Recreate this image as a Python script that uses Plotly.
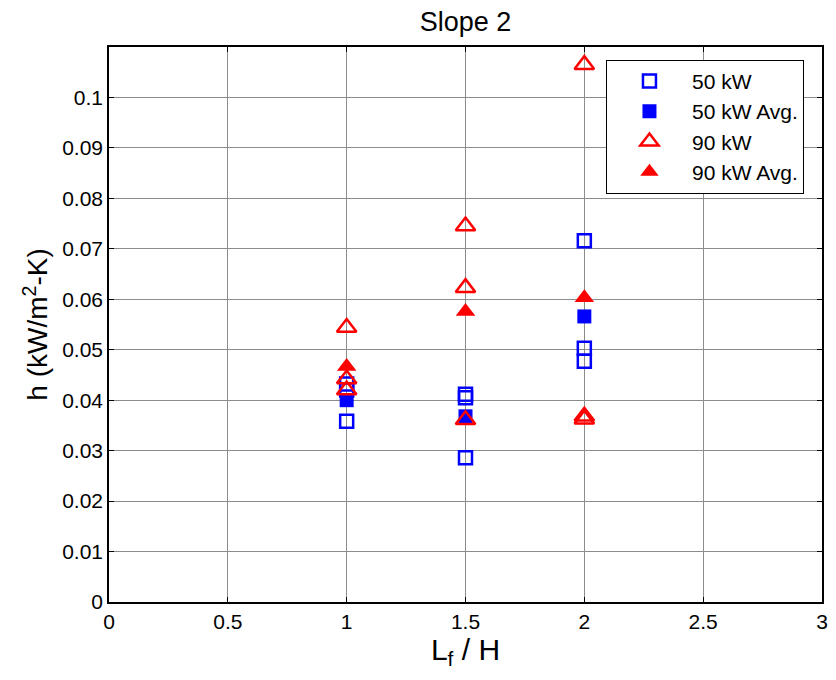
import plotly.graph_objects as go

# Data
x_50 = [1, 1, 1, 1.5, 1.5, 1.5, 2, 2, 2]
h_50 = [0.0358, 0.0420, 0.0432, 0.0286, 0.0405, 0.0412, 0.0477, 0.0503, 0.0716]
x_50_avg = [1, 1.5, 2]
h_50_avg = [0.0400, 0.0368, 0.0566]
x_90 = [1, 1, 1, 1.5, 1.5, 1.5, 2, 2, 2]
h_90 = [0.0420, 0.0442, 0.0544, 0.0361, 0.0623, 0.0745, 0.0362, 0.0368, 0.1065]
x_90_avg = [1, 1.5, 2]
h_90_avg = [0.0467, 0.0576, 0.0603]

x_ticks = [0, 0.5, 1, 1.5, 2, 2.5, 3]
x_tick_labels = ["0", "0.5", "1", "1.5", "2", "2.5", "3"]
y_ticks = [0, 0.01, 0.02, 0.03, 0.04, 0.05, 0.06, 0.07, 0.08, 0.09, 0.1]
y_tick_labels = ["0", "0.01", "0.02", "0.03", "0.04", "0.05", "0.06", "0.07", "0.08", "0.09", "0.1"]

FONT = "Liberation Sans, Arial, sans-serif"

fig = go.Figure()
fig.add_trace(go.Scatter(x=x_50, y=h_50, mode="markers", name="50 kW",
                         marker=dict(symbol="square-open", size=13, color="#0000FF",
                                     line=dict(width=2.5, color="#0000FF"))))
fig.add_trace(go.Scatter(x=x_50_avg, y=h_50_avg, mode="markers", name="50 kW Avg.",
                         marker=dict(symbol="square", size=14, color="#0000FF",
                                     line=dict(width=0))))
fig.add_trace(go.Scatter(x=x_90, y=h_90, mode="markers", name="90 kW",
                         marker=dict(symbol="triangle-up-open", size=17, color="#FF0000",
                                     line=dict(width=2.5, color="#FF0000"))))
fig.add_trace(go.Scatter(x=x_90_avg, y=h_90_avg, mode="markers", name="90 kW Avg.",
                         marker=dict(symbol="triangle-up", size=17, color="#FF0000",
                                     line=dict(width=0))))

axis_common = dict(
    showline=True, linecolor="black", linewidth=1.5, mirror="ticks",
    ticks="inside", ticklen=5, tickcolor="black",
    showgrid=True, gridcolor="#8c8c8c", gridwidth=1,
    zeroline=False,
    tickfont=dict(family=FONT, size=21, color="black"),
)

fig.update_layout(
    width=836, height=680,
    paper_bgcolor="white", plot_bgcolor="white",
    margin=dict(l=109, r=8, t=47, b=78),
    title=dict(text="Slope 2", xref="paper", x=0.5, xanchor="center",
               y=0.968, yanchor="middle",
               font=dict(family=FONT, size=27, color="black")),
    font=dict(family=FONT, color="black"),
    xaxis=dict(range=[0, 3], tickvals=x_ticks, ticktext=x_tick_labels,
               title=dict(text="L<sub>f</sub> / H", standoff=4,
                          font=dict(size=30, color="black")),
               **axis_common),
    yaxis=dict(range=[0, 0.11], tickvals=y_ticks, ticktext=y_tick_labels,
               title=dict(text="h (kW/m<sup>2</sup>-K)", standoff=6,
                          font=dict(size=28, color="black")),
               **axis_common),
    legend=dict(x=0.697, y=0.977, xanchor="left", yanchor="top",
                bgcolor="white", bordercolor="black", borderwidth=1,
                font=dict(size=21, color="black"),
                itemwidth=75, tracegroupgap=3),
    showlegend=True,
)

fig.write_html("out.html")
